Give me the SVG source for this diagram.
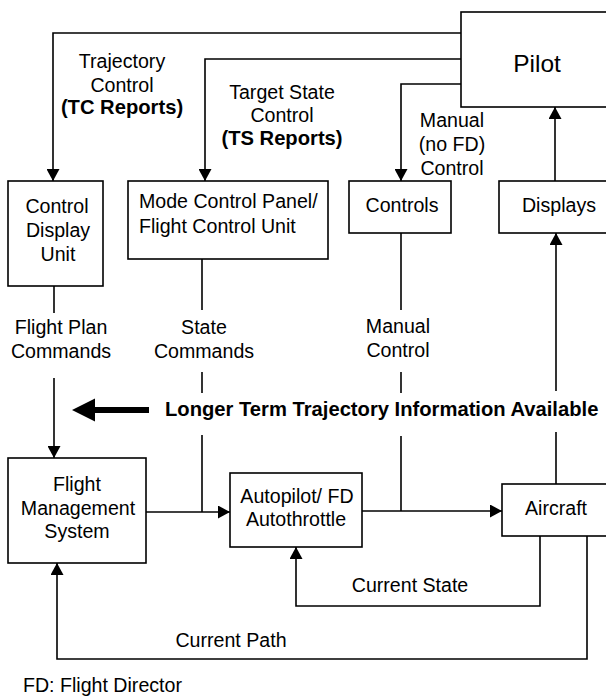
<svg xmlns="http://www.w3.org/2000/svg" width="606" height="700" viewBox="0 0 606 700">
<style>
  .box { fill: #ffffff; stroke: #000; stroke-width: 1.6; }
  .ln { fill: none; stroke: #000; stroke-width: 1.6; }
  .t { font-family: "Liberation Sans", Arial, sans-serif; font-size: 19.6px; fill: #000; }
  .c { text-anchor: middle; }
  .b { font-weight: bold; font-size: 20.2px; }
</style>
<defs>
  <marker id="ah" markerUnits="userSpaceOnUse" markerWidth="12" markerHeight="13" refX="12" refY="6.5" orient="auto">
    <path d="M0,0 L12,6.5 L0,13 z" fill="#000"/>
  </marker>
</defs>
<rect width="606" height="700" fill="#fff"/>

<g id="connectors">
  <path class="ln" d="M461,33 H53 V181" marker-end="url(#ah)"/>
  <path class="ln" d="M461,59 H205 V181" marker-end="url(#ah)"/>
  <path class="ln" d="M461,84 H401 V181" marker-end="url(#ah)"/>
  <path class="ln" d="M555,181 V107" marker-end="url(#ah)"/>
  <path class="ln" d="M556,484 V432"/>
  <path class="ln" d="M556,391 V233" marker-end="url(#ah)"/>
  <path class="ln" d="M54,286 V313"/>
  <path class="ln" d="M54,378 V458" marker-end="url(#ah)"/>
  <path class="ln" d="M202,259 V310"/>
  <path class="ln" d="M202,372 V393"/>
  <path class="ln" d="M202,435 V512"/>
  <path class="ln" d="M146,512 H230" marker-end="url(#ah)"/>
  <path class="ln" d="M401,233 V310"/>
  <path class="ln" d="M401,372 V393"/>
  <path class="ln" d="M401,436 V511"/>
  <path class="ln" d="M362,511 H502" marker-end="url(#ah)"/>
  <path class="ln" d="M540,536 V606 H296 V547" marker-end="url(#ah)"/>
  <path class="ln" d="M587,536 V659 H57 V563" marker-end="url(#ah)"/>
  <polygon points="72,410 95,398.5 95,407 149,407 149,413 95,413 95,421.5" fill="#000"/>
</g>

<g id="labels">
  <text class="t c" x="122" y="68">Trajectory</text>
  <text class="t c" x="122" y="92">Control</text>
  <text class="t c b" x="122" y="114">(TC Reports)</text>
  <text class="t c" x="282" y="99">Target State</text>
  <text class="t c" x="282" y="122">Control</text>
  <text class="t c b" x="282" y="145">(TS Reports)</text>
  <text class="t c" x="452" y="127">Manual</text>
  <text class="t c" x="452" y="151">(no FD)</text>
  <text class="t c" x="452" y="175">Control</text>
  <text class="t c" x="61" y="334">Flight Plan</text>
  <text class="t c" x="61" y="358">Commands</text>
  <text class="t c" x="204" y="334">State</text>
  <text class="t c" x="204" y="358">Commands</text>
  <text class="t c" x="398" y="333">Manual</text>
  <text class="t c" x="398" y="357">Control</text>
  <text class="t b" x="165" y="416">Longer Term Trajectory Information Available</text>
  <text class="t c" x="410" y="592">Current State</text>
  <text class="t c" x="231" y="647">Current Path</text>
  <text class="t" x="23" y="692">FD: Flight Director</text>
</g>

<g id="pilot">
  <rect class="box" x="461" y="12" width="150" height="95"/>
  <text class="t c" x="537" y="72" style="font-size:24.5px">Pilot</text>
</g>
<g id="cdu">
  <rect class="box" x="8" y="181" width="95" height="105"/>
  <text class="t c" x="57" y="213">Control</text>
  <text class="t c" x="58" y="237">Display</text>
  <text class="t c" x="58" y="261">Unit</text>
</g>
<g id="mcp">
  <rect class="box" x="128" y="181" width="200" height="78"/>
  <text class="t" x="139" y="208">Mode Control Panel/</text>
  <text class="t" x="139" y="233">Flight Control Unit</text>
</g>
<g id="controls">
  <rect class="box" x="349" y="181" width="102" height="52"/>
  <text class="t c" x="402" y="212">Controls</text>
</g>
<g id="displays">
  <rect class="box" x="499" y="181" width="112" height="52"/>
  <text class="t c" x="559" y="212">Displays</text>
</g>
<g id="fms">
  <rect class="box" x="8" y="458" width="138" height="105"/>
  <text class="t c" x="77" y="491">Flight</text>
  <text class="t c" x="78" y="515">Management</text>
  <text class="t c" x="77" y="538">System</text>
</g>
<g id="autopilot">
  <rect class="box" x="230" y="473" width="132" height="74"/>
  <text class="t c" x="297" y="503">Autopilot/ FD</text>
  <text class="t c" x="296" y="526">Autothrottle</text>
</g>
<g id="aircraft">
  <rect class="box" x="502" y="484" width="109" height="52"/>
  <text class="t c" x="556" y="515">Aircraft</text>
</g>
</svg>
